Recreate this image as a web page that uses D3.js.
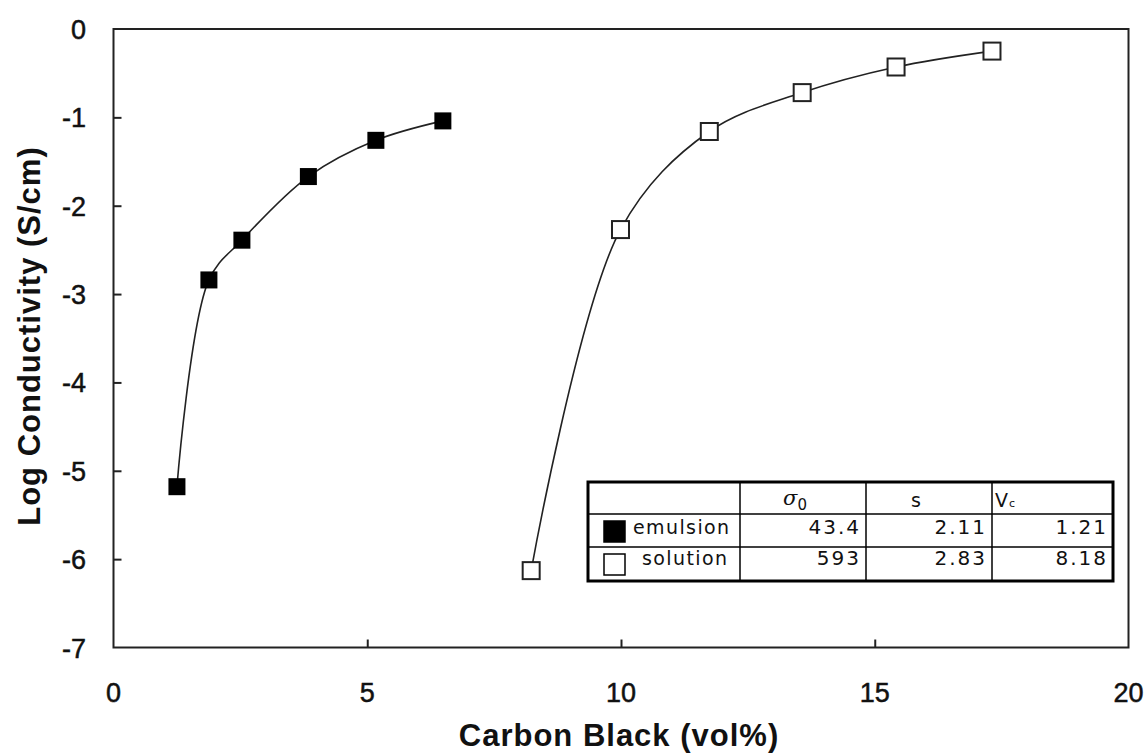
<!DOCTYPE html>
<html><head><meta charset="utf-8">
<script src="https://cdn.jsdelivr.net/npm/d3@7"></script>
<style>body{margin:0;background:#fff}svg{display:block}</style>
</head><body><svg id="c" width="1148" height="756"></svg>
<script>
// ---- data ----
const emulsionX = [1.25, 1.88, 2.53, 3.84, 5.17, 6.49];
const emulsionY = [-5.18, -2.84, -2.39, -1.67, -1.26, -1.04];
const solutionX = [8.23, 9.99, 11.74, 13.57, 15.42, 17.31];
const solutionY = [-6.13, -2.27, -1.16, -0.72, -0.43, -0.25];
const xTicks = [0, 5, 10, 15, 20];
const yTicks = [0, -1, -2, -3, -4, -5, -6, -7];
const seriesNames = ["emulsion", "solution"];
const sigma0 = ["43.4", "593"];
const sExp = ["2.11", "2.83"];
const vc = ["1.21", "8.18"];
const xTitle = "Carbon Black (vol%)";
const yTitle = "Log Conductivity (S/cm)";

// ---- layout ----
const L = 113.5, T = 29, R = 1128.5, B = 647.5;
const svg = d3.select("#c");
const x = d3.scaleLinear().domain([0, 20]).range([L, R]);
const y = d3.scaleLinear().domain([-7, 0]).range([B, T]);
const ink = "#222";

// frame
svg.append("rect").attr("x", L).attr("y", T).attr("width", R - L).attr("height", B - T)
  .attr("fill", "none").attr("stroke", ink).attr("stroke-width", 2);

// axes (inside ticks)
const xAxis = d3.axisTop(x).tickValues(xTicks.slice(1, -1)).tickSize(8).tickFormat("");
svg.append("g").attr("transform", `translate(0,${B})`).call(xAxis)
  .call(g => { g.select(".domain").remove(); g.selectAll("line").attr("stroke", ink).attr("stroke-width", 2); });
const yAxis = d3.axisRight(y).tickValues(yTicks.slice(1, -1)).tickSize(8).tickFormat("");
svg.append("g").attr("transform", `translate(${L},0)`).call(yAxis)
  .call(g => { g.select(".domain").remove(); g.selectAll("line").attr("stroke", ink).attr("stroke-width", 2); });

// tick labels
const af = "Liberation Sans, Arial, sans-serif";
svg.append("g").selectAll("text").data(xTicks).join("text")
  .attr("x", d => x(d)).attr("y", 702).attr("text-anchor", "middle")
  .attr("font-family", af).attr("font-size", 27).attr("fill", "#111")
  .attr("stroke", "#111").attr("stroke-width", 0.5)
  .text(d => d);
svg.append("g").selectAll("text").data(yTicks).join("text")
  .attr("x", 86).attr("y", d => y(d) + 10).attr("text-anchor", "end")
  .attr("font-family", af).attr("font-size", 27).attr("fill", "#111")
  .attr("stroke", "#111").attr("stroke-width", 0.5)
  .text(d => d);

// titles
svg.append("text").attr("x", 619).attr("y", 746).attr("text-anchor", "middle")
  .attr("font-family", af).attr("font-weight", "bold")
  .attr("font-size", 31).attr("letter-spacing", 1).attr("fill", "#111").text(xTitle);
svg.append("text").attr("transform", "translate(40,336) rotate(-90)").attr("text-anchor", "middle")
  .attr("font-family", af).attr("font-weight", "bold")
  .attr("font-size", 31).attr("letter-spacing", 1).attr("fill", "#111").text(yTitle);

// lines
const line = d3.line().x(d => x(d[0])).y(d => y(d[1])).curve(d3.curveCatmullRom.alpha(0.5));
const emu = emulsionX.map((v, i) => [v, emulsionY[i]]);
const sol = solutionX.map((v, i) => [v, solutionY[i]]);
[emu, sol].forEach(pts => {
  svg.append("path").attr("d", line(pts)).attr("fill", "none").attr("stroke", ink).attr("stroke-width", 1.6);
});
const ms = 17;
svg.append("g").selectAll("rect").data(emu).join("rect")
  .attr("x", d => x(d[0]) - ms / 2).attr("y", d => y(d[1]) - ms / 2)
  .attr("width", ms).attr("height", ms).attr("fill", "#000");
svg.append("g").selectAll("rect").data(sol).join("rect")
  .attr("x", d => x(d[0]) - ms / 2).attr("y", d => y(d[1]) - ms / 2)
  .attr("width", ms).attr("height", ms).attr("fill", "#fff").attr("stroke", ink).attr("stroke-width", 2);

// ---- data table legend ----
const tx = [588, 740, 866, 992, 1113];
const ty = [482, 514, 547, 581];
const tg = svg.append("g");
tg.append("rect").attr("x", tx[0]).attr("y", ty[0]).attr("width", tx[4] - tx[0]).attr("height", ty[3] - ty[0])
  .attr("fill", "#fff").attr("stroke", "#000").attr("stroke-width", 3);
[ty[1], ty[2]].forEach(v => tg.append("line").attr("x1", tx[0]).attr("x2", tx[4]).attr("y1", v).attr("y2", v)
  .attr("stroke", "#000").attr("stroke-width", 1.5));
[tx[1], tx[2], tx[3]].forEach(v => tg.append("line").attr("x1", v).attr("x2", v).attr("y1", ty[0]).attr("y2", ty[3])
  .attr("stroke", "#000").attr("stroke-width", 1.5));
const tf = "DejaVu Sans, Verdana, sans-serif";
// header
const h1 = tg.append("text").attr("x", 795).attr("y", 505).attr("text-anchor", "middle")
  .attr("font-family", "DejaVu Serif, serif").attr("font-size", 21).attr("fill", "#111");
h1.append("tspan").attr("font-style", "italic").text("σ");
h1.append("tspan").attr("font-family", tf).attr("font-size", 15).attr("dy", 5).text("0");
tg.append("text").attr("x", 916).attr("y", 507).attr("text-anchor", "middle")
  .attr("font-family", tf).attr("font-size", 19).attr("fill", "#111").text("s");
const h3 = tg.append("text").attr("x", 995).attr("y", 507)
  .attr("font-family", tf).attr("font-size", 19).attr("fill", "#111");
h3.append("tspan").text("V");
h3.append("tspan").attr("font-size", 11).attr("dx", 1).text("c");
// rows
const rowBase = [534, 565];
seriesNames.forEach((name, i) => {
  tg.append("rect").attr("x", 604).attr("y", ty[i + 1] + 7).attr("width", 21).attr("height", 21)
    .attr("fill", i === 0 ? "#000" : "#fff").attr("stroke", "#000").attr("stroke-width", 1.5);
  tg.append("text").attr("x", i === 0 ? 633 : 642).attr("y", rowBase[i])
    .attr("font-family", tf).attr("font-size", 19).attr("letter-spacing", 1.4).attr("fill", "#111").text(name);
  [sigma0[i], sExp[i], vc[i]].forEach((v, j) => {
    tg.append("text").attr("x", tx[j + 2] - 5).attr("y", rowBase[i]).attr("text-anchor", "end")
      .attr("font-family", tf).attr("font-size", 20).attr("letter-spacing", 2).attr("fill", "#111").text(v);
  });
});
</script></body></html>
